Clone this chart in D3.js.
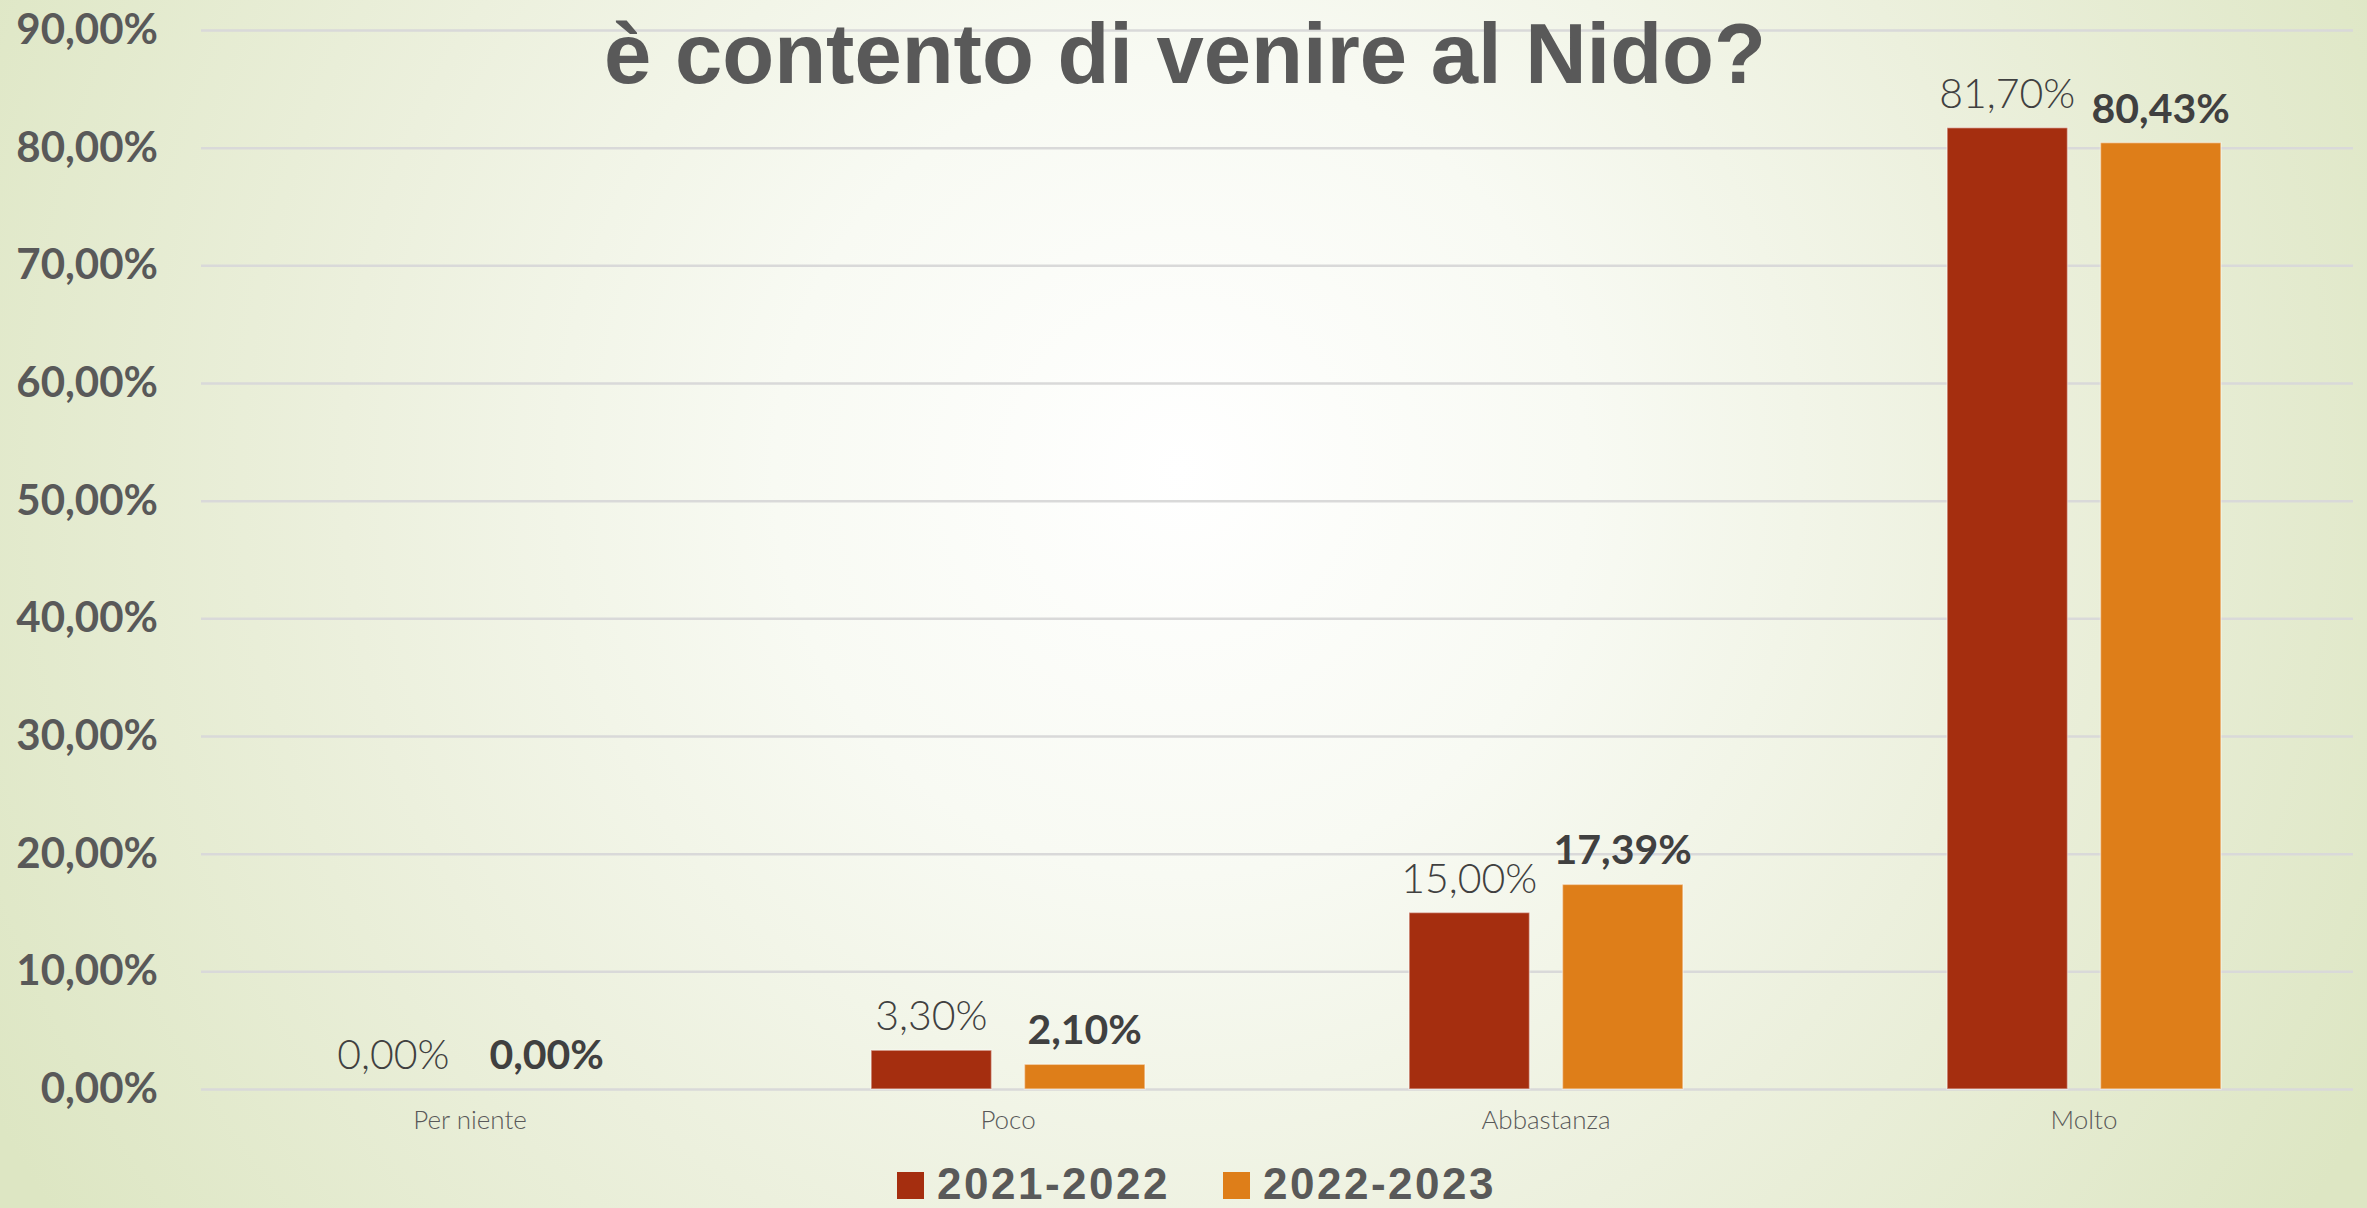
<!DOCTYPE html>
<html>
<head>
<meta charset="utf-8">
<script src="https://cdn.jsdelivr.net/npm/d3@7"></script>
<style>
    html, body { margin: 0; padding: 0; overflow: hidden; }
    svg { display: block; }
</style>
</head>
<body>
<div id="mainDiv"></div>
<script>
// dati del grafico
var categorie = ["Per niente", "Poco", "Abbastanza", "Molto"];
var serie = ["2021-2022", "2022-2023"];
var valori2122 = [0, 3.30, 15.00, 81.70];
var valori2223 = [0, 2.10, 17.39, 80.43];
var tickValori = [0, 10, 20, 30, 40, 50, 60, 70, 80, 90];
var titolo = "è contento di venire al Nido?";

var myApp = {};

myApp.cw = 2367;
myApp.ch = 1208;
myApp.plot = {left: 201, right: 2353, top: 30, bottom: 1089};
myApp.colors = ["#a52e0f", "#de7e19"];
myApp.xScale = undefined;
myApp.xInner = undefined;
myApp.yScale = undefined;

myApp.it = d3.formatLocale({decimal: ",", thousands: ".", grouping: [3], currency: ["€", ""]});
myApp.fmt = function (v) {
    return myApp.it.format(".2f")(v) + "%";
}

myApp.appendSvg = function (div) {
    let node = d3.select(div).append('svg')
        .attr('width', myApp.cw)
        .attr('height', myApp.ch);
    return node;
}

// sfondo sfumato verde chiaro
myApp.appendBackground = function (svg) {
    let grad = svg.append('defs').append('radialGradient')
        .attr('id', 'bg')
        .attr('gradientUnits', 'userSpaceOnUse')
        .attr('cx', 1180).attr('cy', 470).attr('r', 1350);
    grad.append('stop').attr('offset', 0).attr('stop-color', '#ffffff');
    grad.append('stop').attr('offset', 0.3).attr('stop-color', '#f8faf3');
    grad.append('stop').attr('offset', 0.62).attr('stop-color', '#ecf0dd');
    grad.append('stop').attr('offset', 1).attr('stop-color', '#dde6c3');
    svg.append('rect')
        .attr('width', myApp.cw)
        .attr('height', myApp.ch)
        .attr('fill', 'url(#bg)');
}

myApp.createScales = function () {
    myApp.xScale = d3.scaleBand()
        .domain(categorie)
        .range([myApp.plot.left, myApp.plot.right])
        .padding(0);
    let bw = myApp.xScale.bandwidth();
    let gw = bw * 0.509;
    myApp.xInner = d3.scaleBand()
        .domain(serie)
        .range([(bw - gw) / 2, (bw + gw) / 2])
        .paddingInner(0.215)
        .paddingOuter(0);
    myApp.yScale = d3.scaleLinear()
        .domain([0, 90])
        .range([myApp.plot.bottom, myApp.plot.top]);
}

myApp.createAxes = function (svg) {
    // griglia
    let yAxis = d3.axisLeft(myApp.yScale)
        .tickValues(tickValori)
        .tickSize(-(myApp.plot.right - myApp.plot.left))
        .tickPadding(43)
        .tickFormat(d => myApp.fmt(d));
    let g = svg.append('g')
        .attr('class', 'yAxis')
        .attr('transform', 'translate(' + myApp.plot.left + ',0)')
        .call(yAxis);
    g.select('.domain').remove();
    g.selectAll('line')
        .attr('stroke', '#d9d9d9')
        .attr('stroke-width', 2.5);
    g.selectAll('text')
        .attr('font-family', 'Lato, "Open Sans", sans-serif')
        .attr('font-weight', 'bold')
        .attr('font-size', '42px')
        .attr('fill', '#595959');

    let xAxis = d3.axisBottom(myApp.xScale).tickSize(0).tickPadding(22);
    let gx = svg.append('g')
        .attr('class', 'xAxis')
        .attr('transform', 'translate(0,' + myApp.plot.bottom + ')')
        .call(xAxis);
    gx.select('.domain').remove();
    gx.selectAll('text')
        .attr('font-family', 'Lato, "Open Sans", sans-serif')
        .attr('font-weight', 300)
        .attr('font-size', '26px')
        .attr('fill', '#595959');
}

myApp.appendBars = function (svg) {
    let rows = categorie.map(function (c, i) {
        return [
            {cat: c, serie: serie[0], v: valori2122[i], k: 0},
            {cat: c, serie: serie[1], v: valori2223[i], k: 1}
        ];
    });
    let groups = svg.append('g')
        .attr('class', 'bars')
        .selectAll('g')
        .data(rows)
        .enter().append('g')
        .attr('transform', d => 'translate(' + myApp.xScale(d[0].cat) + ',0)');

    groups.selectAll('rect')
        .data(d => d)
        .enter().append('rect')
        .attr('x', d => myApp.xInner(d.serie))
        .attr('y', d => myApp.yScale(d.v))
        .attr('width', myApp.xInner.bandwidth())
        .attr('height', d => myApp.plot.bottom - myApp.yScale(d.v))
        .attr('fill', d => myApp.colors[d.k])
        .attr('stroke', d => d.v > 0 ? 'rgba(255,255,255,0.45)' : 'none')
        .attr('stroke-width', 1.5);

    groups.selectAll('text')
        .data(d => d)
        .enter().append('text')
        .attr('x', d => myApp.xInner(d.serie) + myApp.xInner.bandwidth() / 2)
        .attr('y', d => myApp.yScale(d.v) - 20)
        .attr('text-anchor', 'middle')
        .attr('font-family', 'Lato, "Open Sans", sans-serif')
        .attr('font-weight', d => d.k === 1 ? 'bold' : 300)
        .attr('font-size', '41px')
        .attr('fill', '#404040')
        .text(d => myApp.fmt(d.v));
}

myApp.appendTitle = function (svg) {
    svg.append('text')
        .attr('x', 1185)
        .attr('y', 83)
        .attr('text-anchor', 'middle')
        .attr('font-family', '"Liberation Sans", Arial, sans-serif')
        .attr('font-weight', 'bold')
        .attr('font-size', '85px')
        .attr('fill', '#595959')
        .text(titolo);
}

myApp.appendLegend = function (svg) {
    let pos = [897, 1223];
    let legend = svg.append('g')
        .attr('class', 'legend')
        .selectAll('g')
        .data(serie)
        .enter().append('g')
        .attr('transform', (d, i) => 'translate(' + pos[i] + ',1172)');
    legend.append('rect')
        .attr('width', 27)
        .attr('height', 27)
        .attr('fill', (d, i) => myApp.colors[i]);
    legend.append('text')
        .attr('x', 40)
        .attr('y', 27)
        .attr('font-family', '"Liberation Sans", Arial, sans-serif')
        .attr('font-weight', 'bold')
        .attr('font-size', '44px')
        .attr('letter-spacing', '2.5px')
        .attr('fill', '#595959')
        .text(d => d);
}

myApp.run = function () {
    let svg = myApp.appendSvg('#mainDiv');
    myApp.appendBackground(svg);
    myApp.createScales();
    myApp.createAxes(svg);
    myApp.appendTitle(svg);
    myApp.appendBars(svg);
    myApp.appendLegend(svg);
}

window.onload = myApp.run;
</script>
</body>
</html>
